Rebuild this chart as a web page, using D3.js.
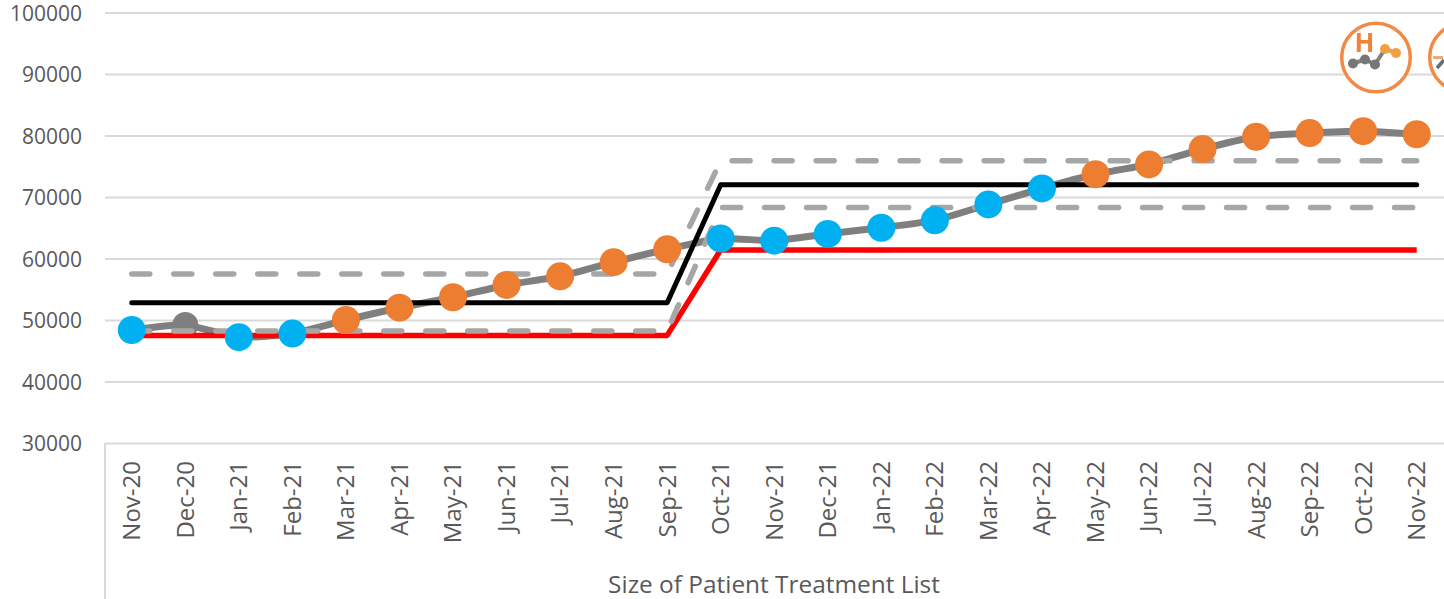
<!DOCTYPE html>
<html>
<head>
<meta charset="utf-8">
<script src="https://cdn.jsdelivr.net/npm/d3@7"></script>
<style>
html, body { margin: 0; padding: 0; background: #fff; overflow: hidden; }
svg { display: block; font-family: "Open Sans", sans-serif; }
</style>
</head>
<body>
<div id="chart"></div>
<script>
// values
var months = ["Nov-20","Dec-20","Jan-21","Feb-21","Mar-21","Apr-21","May-21","Jun-21","Jul-21","Aug-21","Sep-21","Oct-21","Nov-21","Dec-21","Jan-22","Feb-22","Mar-22","Apr-22","May-22","Jun-22","Jul-22","Aug-22","Sep-22","Oct-22","Nov-22"];
var listSize = [48370,49200,47200,47800,50000,52000,53700,55700,57100,59400,61500,63250,62900,64000,65000,66200,68800,71400,73700,75300,77800,79800,80400,80700,80200];
// b = blue (below mean run), o = orange (high run), g = plain grey
var pointType = ["b","g","b","b","o","o","o","o","o","o","o","b","b","b","b","b","b","b","o","o","o","o","o","o","o"];
var mean = [52800,52800,52800,52800,52800,52800,52800,52800,52800,52800,52800,72000,72000,72000,72000,72000,72000,72000,72000,72000,72000,72000,72000,72000,72000];
var lowerLimit = [47500,47500,47500,47500,47500,47500,47500,47500,47500,47500,47500,61400,61400,61400,61400,61400,61400,61400,61400,61400,61400,61400,61400,61400,61400];
var upperBand = [57500,57500,57500,57500,57500,57500,57500,57500,57500,57500,57500,75900,75900,75900,75900,75900,75900,75900,75900,75900,75900,75900,75900,75900,75900];
var lowerBand = [48200,48200,48200,48200,48200,48200,48200,48200,48200,48200,48200,68300,68300,68300,68300,68300,68300,68300,68300,68300,68300,68300,68300,68300,68300];
var yTicks = [30000,40000,50000,60000,70000,80000,90000,100000];
var xTitle = "Size of Patient Treatment List";

var width = 1444, height = 599;
var left = 105, right = 1444, top_ = 12.5, bottom = 443;

var svg = d3.select("#chart").append("svg")
    .attr("width", width)
    .attr("height", height);

// raster icons in the original are soft, keep them a bit blurred
svg.append("defs").append("filter").attr("id", "soft")
    .append("feGaussianBlur").attr("stdDeviation", 0.7);

var x = d3.scaleBand().domain(months).range([left, left + 25 * 53.54]);
var y = d3.scaleLinear().domain([30000, 100000]).range([bottom, top_]);
var cx = function(i) { return x(months[i]) + x.bandwidth() / 2; };

// gridlines + y labels
var yAxis = svg.append("g")
    .attr("transform", "translate(" + left + ",0)")
    .call(d3.axisLeft(y).tickValues(yTicks).tickFormat(d3.format("d")).tickSize(-(right - left)).tickPadding(23));
yAxis.attr("font-family", null).attr("font-size", null);
yAxis.select(".domain").remove();
yAxis.selectAll("line").attr("stroke", "#d9d9d9").attr("stroke-width", 2);
yAxis.selectAll("text").attr("fill", "#595959").style("font-size", "21px").attr("dy", "0.36em");

// month labels
var xAxis = svg.append("g")
    .attr("transform", "translate(0," + bottom + ")")
    .call(d3.axisBottom(x).tickSize(0));
xAxis.attr("font-family", null).attr("font-size", null);
xAxis.select(".domain").remove();
xAxis.selectAll("text")
    .attr("fill", "#595959")
    .style("font-size", "24px")
    .attr("text-anchor", "end")
    .attr("dy", "0.35em")
    .attr("transform", "translate(0,18) rotate(-90)")
    .attr("x", 0).attr("y", 0);

// box under the plot
svg.append("line").attr("x1", left).attr("x2", left).attr("y1", bottom).attr("y2", height)
    .attr("stroke", "#d9d9d9").attr("stroke-width", 2);

svg.append("text")
    .attr("x", 774).attr("y", 593)
    .attr("text-anchor", "middle")
    .attr("fill", "#595959")
    .style("font-size", "24.4px")
    .text(xTitle);

function lineOf(curve) {
    return d3.line().x(function(d, i) { return cx(i); }).y(function(d) { return y(d); }).curve(curve);
}
function drawLine(values, color, w, curve) {
    return svg.append("path").datum(values)
        .attr("d", lineOf(curve || d3.curveLinear))
        .attr("fill", "none")
        .attr("stroke", color)
        .attr("stroke-width", w)
        .attr("stroke-linejoin", "round");
}

drawLine(listSize, "#7f7f7f", 7, d3.curveCardinal.tension(0.5));

// plain grey points go under the dashes
svg.append("g").selectAll("circle")
    .data(listSize.map(function(v, i) { return {v: v, i: i}; }).filter(function(d) { return pointType[d.i] == "g"; }))
    .enter().append("circle")
    .attr("cx", function(d) { return cx(d.i); })
    .attr("cy", function(d) { return y(d.v); })
    .attr("r", 13)
    .attr("fill", "#7f7f7f");

drawLine(lowerLimit, "#ff0000", 5.5);

[upperBand, lowerBand].forEach(function(b) {
    drawLine(b, "#a6a6a6", 5.5)
        .attr("stroke-dasharray", "18 24")
        .attr("stroke-linecap", "round");
});
drawLine(mean, "#000000", 5).attr("stroke-linecap", "round");

// coloured points on top
var pointColor = {b: "#00b0f0", o: "#ed7d31"};
svg.append("g").selectAll("circle")
    .data(listSize.map(function(v, i) { return {v: v, i: i}; }).filter(function(d) { return pointType[d.i] != "g"; }))
    .enter().append("circle")
    .attr("cx", function(d) { return cx(d.i); })
    .attr("cy", function(d) { return y(d.v); })
    .attr("r", 14)
    .attr("fill", function(d) { return pointColor[pointType[d.i]]; });

// little variation icon, high run
var icon = svg.append("g").attr("transform", "translate(1376,57.5)").attr("filter", "url(#soft)");
icon.append("circle").attr("r", 34.3).attr("fill", "#fff").attr("stroke", "#f28a45").attr("stroke-width", 3.5);
icon.append("text").attr("x", -11.5).attr("y", -5.5).attr("text-anchor", "middle")
    .attr("fill", "#f0823a").style("font-size", "26px").style("font-weight", "700").text("H");
var iconLine = d3.line();
icon.append("path").attr("d", iconLine([[-23,6],[-11,2],[-1,7],[9,-8.5]]))
    .attr("fill", "none").attr("stroke", "#808080").attr("stroke-width", 4);
icon.append("path").attr("d", iconLine([[9,-8.5],[20,-4.5]]))
    .attr("fill", "none").attr("stroke", "#f0a040").attr("stroke-width", 4);
[[-23,6],[-11,2],[-1,7]].forEach(function(p) {
    icon.append("circle").attr("cx", p[0]).attr("cy", p[1]).attr("r", 5).attr("fill", "#777");
});
[[9,-8.5],[20,-4.5]].forEach(function(p) {
    icon.append("circle").attr("cx", p[0]).attr("cy", p[1]).attr("r", 5).attr("fill", "#f0a040");
});

// second icon, cut by the right edge
var icon2 = svg.append("g").attr("transform", "translate(1464,57.5)").attr("filter", "url(#soft)");
icon2.append("circle").attr("r", 34.3).attr("fill", "#fff").attr("stroke", "#f28a45").attr("stroke-width", 3.5);
icon2.append("line").attr("x1", -31).attr("x2", -21).attr("y1", 0).attr("y2", 0)
    .attr("stroke", "#f5a877").attr("stroke-width", 3);
icon2.append("line").attr("x1", -27).attr("x2", -20).attr("y1", 10.5).attr("y2", 2.5)
    .attr("stroke", "#5f7080").attr("stroke-width", 3.5);
</script>
</body>
</html>
